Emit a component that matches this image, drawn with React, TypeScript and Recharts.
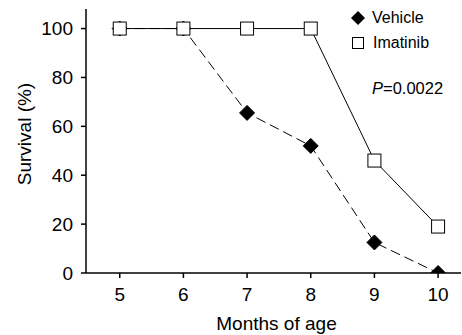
import React from "react";
import { LineChart, Line, XAxis, YAxis, Label } from "recharts";

const months = [5, 6, 7, 8, 9, 10];
const vehicle = [100, 100, 65.5, 52, 12.5, 0];
const imatinib = [100, 100, 100, 100, 46, 19];
const xTicks = [5, 6, 7, 8, 9, 10];
const yTicks = [0, 20, 40, 60, 80, 100];
const seriesNames = ["Vehicle", "Imatinib"];
const pValueLabel = "=0.0022";

const data = months.map((m, i) => ({ month: m, vehicle: vehicle[i], imatinib: imatinib[i] }));

const FONT = "'Liberation Sans', Arial, Helvetica, sans-serif";

const Diamond = (props: any) => {
  const { cx, cy, index } = props;
  if (cx == null || cy == null) return <g key={`d${index}`} />;
  const r = 7.5;
  return (
    <path
      key={`d${index}`}
      d={`M${cx},${cy - r}L${cx + r},${cy}L${cx},${cy + r}L${cx - r},${cy}Z`}
      fill="#000"
      stroke="#000"
    />
  );
};

const Square = (props: any) => {
  const { cx, cy, index } = props;
  if (cx == null || cy == null) return <g key={`s${index}`} />;
  const r = 6.5;
  return (
    <rect key={`s${index}`} x={cx - r} y={cy - r} width={2 * r} height={2 * r} fill="#fff" stroke="#000" strokeWidth={1} />
  );
};

const LegendOverlay = () => (
  <div style={{ fontFamily: FONT, color: "#000", position: "absolute", left: 350, top: 8, width: 112, height: 100 }}>
    <div style={{ position: "absolute", left: 0, top: 0, display: "flex", alignItems: "center", height: 20 }}>
      <svg width={16} height={16} style={{ marginRight: 6 }}>
        <path d="M8,1L15,8L8,15L1,8Z" fill="#000" />
      </svg>
      <span style={{ fontSize: 16 }}>{seriesNames[0]}</span>
    </div>
    <div style={{ position: "absolute", left: 2, top: 25, display: "flex", alignItems: "center", height: 20 }}>
      <svg width={13} height={13} style={{ marginRight: 8 }}>
        <rect x={0.5} y={0.5} width={11} height={11} fill="#fff" stroke="#000" />
      </svg>
      <span style={{ fontSize: 16 }}>{seriesNames[1]}</span>
    </div>
    <div style={{ position: "absolute", left: 22, top: 71, fontSize: 16.5, whiteSpace: "nowrap" }}>
      <i>P</i>{pValueLabel}
    </div>
  </div>
);

export default function App() {
  return (
    <div style={{ position: "absolute", left: 0, top: 0, width: 462, height: 335, background: "#fff" }}>
      <LineChart width={462} height={335} data={data} margin={{ top: 9, right: 1, bottom: 0, left: 26 }}>
        <XAxis
          dataKey="month"
          type="number"
          domain={[4.47, 10.36]}
          ticks={xTicks}
          allowDataOverflow
          axisLine={{ stroke: "#000", strokeWidth: 1.5 }}
          tickLine={{ stroke: "#000", strokeWidth: 1.5 }}
          tickSize={5}
          tickMargin={10}
          height={62}
          tick={{ fill: "#000", fontSize: 19, fontFamily: FONT }}
        >
          <Label value="Months of age" position="insideBottom" offset={5} dx={3} style={{ fill: "#000", fontSize: 19, fontFamily: FONT }} />
        </XAxis>
        <YAxis
          type="number"
          domain={[0, 108]}
          ticks={yTicks}
          allowDataOverflow
          width={60}
          axisLine={{ stroke: "#000", strokeWidth: 1.5 }}
          tickLine={{ stroke: "#000", strokeWidth: 1.5 }}
          tickSize={5}
          tickMargin={8}
          tick={{ fill: "#000", fontSize: 19, fontFamily: FONT }}
        >
          <Label value="Survival (%)" angle={-90} position="insideLeft" offset={-2} dy={-7} style={{ fill: "#000", fontSize: 19, fontFamily: FONT, textAnchor: "middle" }} />
        </YAxis>
        <Line
          dataKey="vehicle"
          stroke="#000"
          strokeWidth={1}
          strokeDasharray="10 5"
          dot={Diamond}
          activeDot={false}
          isAnimationActive={false}
        />
        <Line
          dataKey="imatinib"
          stroke="#000"
          strokeWidth={1}
          dot={Square}
          activeDot={false}
          isAnimationActive={false}
        />
      </LineChart>
      <LegendOverlay />
    </div>
  );
}
